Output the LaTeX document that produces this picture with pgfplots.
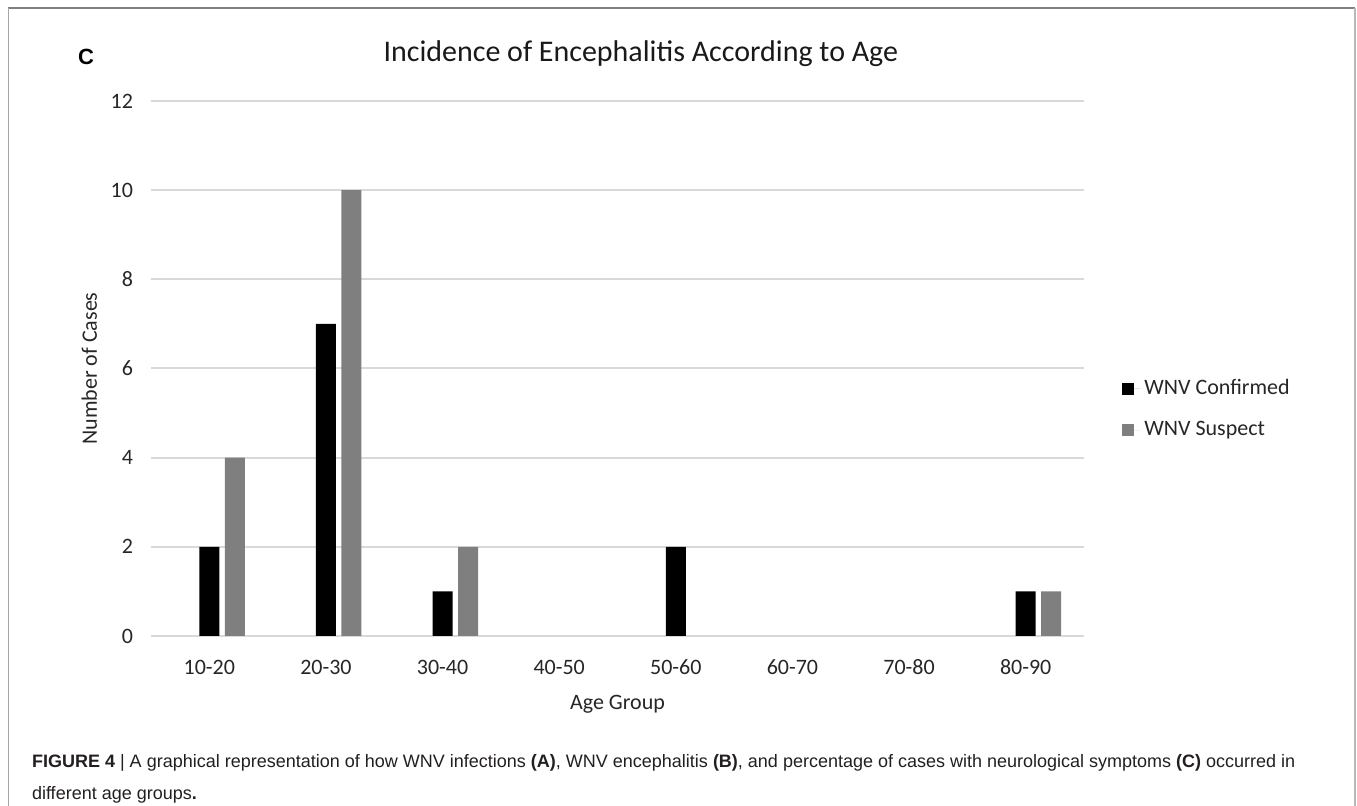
\documentclass[border=0pt]{standalone}
\usepackage{pgfplots}
\pgfplotsset{compat=1.18}
\usepackage{fontspec}
\setmainfont{Carlito}
\newfontfamily\capfont{Liberation Sans}
\definecolor{barblack}{HTML}{000000}
\definecolor{bargray}{HTML}{7F7F7F}
\definecolor{gridgray}{HTML}{D9D9D9}
\definecolor{captext}{HTML}{231F20}

\begin{document}
\begin{tikzpicture}
\begin{axis}[
    at={(75.5pt,-318pt)}, anchor=south west,
    scale only axis,
    width=466.5pt, height=267.5pt,
    xmin=-0.5, xmax=7.5,
    ymin=0, ymax=12,
    ybar, bar width=10pt,
    xtick={0,...,7},
    xticklabels={10-20,20-30,30-40,40-50,50-60,60-70,70-80,80-90},
    ytick={0,2,...,12},
    axis line style={draw=none},
    tick style={draw=none},
    ymajorgrids=true,
    grid style={color=gridgray, line width=1pt},
    /pgf/number format/assume math mode=true,
    tick label style={font=\fontsize{11pt}{13pt}\selectfont, text=black!85},
    yticklabel style={anchor=east, xshift=-5.5pt},
    xticklabel style={anchor=north, text height=7.5pt, text depth=0pt, yshift=-4pt},
    xlabel={Age Group},
    ylabel={Number of Cases},
    label style={font=\fontsize{11pt}{13pt}\selectfont, text=black!85},
    xlabel style={at={(axis description cs:0.5,-0.127)}, anchor=center},
    ylabel style={at={(axis description cs:-0.066,0.5)}, anchor=center},
    title={Incidence of Encephalitis According to Age},
    title style={at={(axis description cs:0.525,1.066)}, anchor=center,
        font=\fontsize{15pt}{17pt}\selectfont, text=black!90},
    legend style={draw=none, fill=none, inner sep=0pt,
        at={(axis description cs:1.0407,0.424)}, anchor=west,
        font=\fontsize{11pt}{13pt}\selectfont, text=black!85,
        row sep=8pt},
    legend cell align=left,
    legend image code/.code={
        \fill[#1] (0pt,-3pt) rectangle (6pt,3pt);
        \path (0pt,0pt) -- (9pt,0pt);},
]
\addplot[fill=barblack, draw=none, bar shift=0pt] coordinates {
    (0,2) (1,7) (2,1) (4,2) (7,1)
};
\addlegendentry{WNV Confirmed}
\addplot[fill=bargray, draw=none, bar shift=12.75pt] coordinates {
    (0,4) (1,10) (2,2) (7,1)
};
\addlegendentry{WNV Suspect}
\end{axis}
\begin{scope}[x=0.5pt, y=-0.5pt]
  \path[use as bounding box] (0,0) rectangle (1357,806);
  \draw[color=black!50, line width=0.75pt] (8,8) -- (1355,8);
  \draw[color=black!35, line width=0.75pt] (8.5,8) -- (8.5,806);
  \draw[color=black!28, line width=1pt] (1355,8) -- (1355,806);
  \node[font=\capfont\bfseries\fontsize{11pt}{12pt}\selectfont] at (86,57) {C};
  \node[anchor=base west, font=\capfont\fontsize{9pt}{11pt}\selectfont, text=captext] at (25,768)
    {\textbf{FIGURE 4} | A graphical representation of how WNV infections \textbf{(A)}, WNV encephalitis \textbf{(B)}, and percentage of cases with neurological symptoms \textbf{(C)} occurred in};
  \node[anchor=base west, font=\capfont\fontsize{9pt}{11pt}\selectfont, text=captext] at (25,800)
    {different age groups\textbf{.}};
\end{scope}
\end{tikzpicture}
\end{document}
